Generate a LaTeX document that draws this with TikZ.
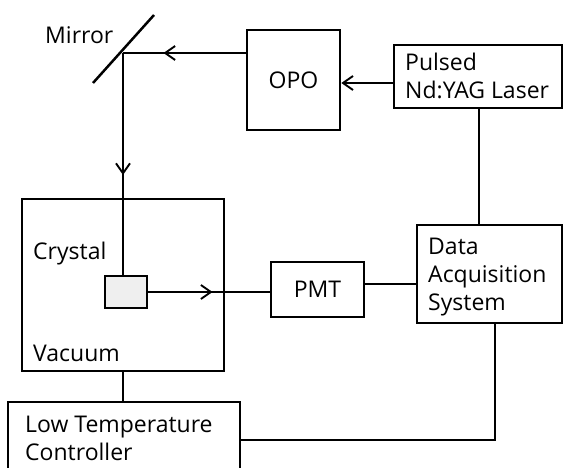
\documentclass[tikz,border=0pt]{standalone}
\usepackage{fontspec}
\setmainfont{Open Sans}
\usetikzlibrary{arrows.meta,decorations.markings}
\definecolor{crysgray}{HTML}{EFEFEF}
\begin{document}
\begin{tikzpicture}[x=1pt,y=-1pt,
  box/.style={draw, line width=2.7pt, inner sep=0pt, font=\fontsize{23}{28}\selectfont},
  conn/.style={line width=1.9pt},
  lbl/.style={inner sep=0pt, font=\fontsize{23}{28}\selectfont, align=left},
  >={Straight Barb[length=10pt,width=14pt]},
  midarrow/.style={postaction={decorate}, decoration={markings, mark=at position #1 with {\arrow{>}}}}
]
\clip (0,0) rectangle (563,468);
% nodes
\node[box, minimum width=93pt, minimum height=100pt] (opo) at (293.5,80) {OPO};
\node[box, minimum width=168pt, minimum height=63pt] (laser) at (478,76.5) {};
\node[lbl, anchor=base west] (laserT) at (405,99) {Pulsed\\Nd:YAG Laser};
\node[box, minimum width=202pt, minimum height=172pt] (vac) at (123,285) {};
\node[lbl, anchor=base west] (crysT) at (33,260) {Crystal};
\node[lbl, anchor=base west] (vacT) at (33,361) {Vacuum};
\node[box, minimum width=93pt, minimum height=55pt] (pmt) at (317.5,289.5) {PMT};
\node[box, minimum width=145pt, minimum height=98pt] (daq) at (489.5,274) {};
\node[lbl, anchor=base west] (daqT) at (428,310) {Data\\Acquisition\\System};
\node[box, minimum width=232pt, minimum height=71pt] (ltc) at (124,437.5) {};
\node[lbl, anchor=base west] (ltcT) at (25,460) {Low Temperature\\Controller};
\node[lbl, anchor=base west] (mirT) at (45,43.3) {Mirror};
% mirror
\coordinate (mA) at (93,83);
\coordinate (mB) at (154,15);
\coordinate (M) at (123,53);
\draw[line width=2.5pt] (mA) -- (mB);
% connectors
\draw[conn, ->] ([yshift=-6.5pt]laser.west) -- ([yshift=-6.5pt]laser.west -| opo.east);
\draw[conn, midarrow=0.67] (opo.west |- M) -- (M);
\node[box, line width=2.4pt, fill=crysgray, minimum width=42pt, minimum height=32pt] (crys) at (126,292) {};
\draw[conn, midarrow=0.55] (M) -- (M |- crys.north);
\draw[conn, midarrow=0.53] (crys.east) -- (crys.east -| pmt.west);
\draw[conn] ([yshift=5.5pt]pmt.east) -- ([yshift=5.5pt]pmt.east -| daq.west);
\draw[conn] ([xshift=1pt]laser.south) -- ([xshift=1pt]laser.south |- daq.north);
\draw[conn] ([xshift=5.5pt]daq.south) |- ([yshift=-2.5pt]ltc.east);
\draw[conn] (vac.south) -- (vac.south |- ltc.north);
\end{tikzpicture}
\end{document}
